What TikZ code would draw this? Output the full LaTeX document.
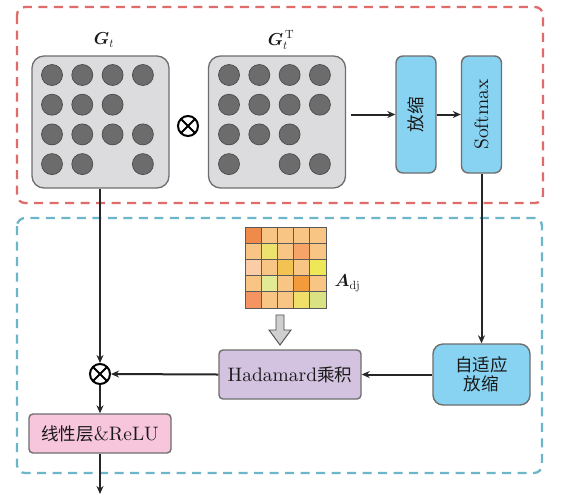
\documentclass[tikz,border=0pt]{standalone}
\usepackage{fontspec}
\usepackage{bm}
\setmainfont{lmroman10-regular}[Extension=.otf, BoldFont=lmroman10-bold, ItalicFont=lmroman10-italic]
\newfontfamily\cjk[Scale=0.9]{Noto Sans CJK SC}
\usetikzlibrary{arrows.meta,calc}
\definecolor{reddash}{HTML}{E06B6B}
\definecolor{bluedash}{HTML}{6DB6CA}
\definecolor{boxline}{HTML}{6E6E6E}
\definecolor{matgray}{HTML}{DCDCDE}
\definecolor{dotfill}{HTML}{6C6C6C}
\definecolor{dotline}{HTML}{4A4A4A}
\definecolor{skyb}{HTML}{88D3F2}
\definecolor{lav}{HTML}{D4C3E0}
\definecolor{pinkb}{HTML}{F8C6DC}
\definecolor{arrgray}{HTML}{CFCFCF}
\definecolor{gridc}{HTML}{5A5A5A}
\definecolor{OD}{HTML}{F08A4B}
\definecolor{LO}{HTML}{F9C584}
\definecolor{YE}{HTML}{EEE26E}
\definecolor{MO}{HTML}{F6A468}
\definecolor{PE}{HTML}{FBCDA6}
\definecolor{GO}{HTML}{F2C253}
\definecolor{BY}{HTML}{EEE858}
\definecolor{YG}{HTML}{E2EA96}
\definecolor{OR}{HTML}{F39A3C}
\definecolor{OT}{HTML}{F39462}
\definecolor{YT}{HTML}{F0E06A}
\definecolor{GT}{HTML}{D9E384}
\tikzset{
  conn/.style={line width=2pt, draw=black!85, -{Stealth[length=8pt,width=7pt]}},
  matbox/.style={draw=boxline, fill=matgray, rounded corners=12pt, line width=1.3pt,
    minimum width=137pt, minimum height=132pt, inner sep=0pt},
  blk/.style={draw=boxline, rounded corners=7pt, line width=1.4pt, inner sep=0pt, text=black!90},
  dotc/.style={draw=dotline, fill=dotfill, line width=0.7pt},
  otimes/.style={circle, draw=black, line width=2pt, minimum size=20pt, inner sep=0pt,
    path picture={\draw[line width=2pt] (path picture bounding box.north west) -- (path picture bounding box.south east)
      (path picture bounding box.north east) -- (path picture bounding box.south west);}},
  lbl/.style={font=\fontsize{19.5}{22}\selectfont, text=black!90},
  mlbl/.style={font=\fontsize{17}{20}\selectfont, text=black!90},
  dashbox/.style={line width=2.3pt, rounded corners=8pt, dash pattern=on 9pt off 6.5pt},
}
\begin{document}
\begin{tikzpicture}[x=1pt,y=-1pt]
\useasboundingbox (0,0) rectangle (567,499);
\fill[white] (0,0) rectangle (567,499);

% dashed regions
\draw[dashbox, draw=reddash] (17,7) rectangle (543,203);
\draw[dashbox, draw=bluedash] (17,218) rectangle (542,473);

% G_t and G_t^T
\node[matbox] (Gt) at (100.5,122) {};
\node[matbox] (GtT) at (277,122) {};
\node[mlbl] (gtl) at (104,40) {$\bm{G}_t$};
\node[mlbl] (gttl) at (281,40) {$\bm{G}_{t}^{\,\mathrm{T}}$};
\foreach \r/\cols in {0/{0,1,2,3},1/{0,1,2},2/{0,1,2,3},3/{0,1,3}}
  \foreach \c in \cols
    \draw[dotc] (52+30.3*\c, 75+29.7*\r) circle (10.5pt);
\foreach \r/\cols in {0/{0,1,2,3},1/{0,1,2,3},2/{0,1,2},3/{0,2,3}}
  \foreach \c in \cols
    \draw[dotc] (229+30.3*\c, 75+29.7*\r) circle (10.5pt);
\node[otimes] (ot1) at (188,126) {};

% scaling and softmax
\node[blk, fill=skyb, minimum width=40pt, minimum height=117pt,
  label={[lbl, rotate=90]center:{\cjk 放缩}}] (fs) at (416,114.5) {};
\node[blk, fill=skyb, minimum width=40pt, minimum height=117pt,
  label={[lbl, rotate=90]center:Softmax}] (sm) at (481.5,114.5) {};

% adjacency matrix
\foreach \row [count=\r from 0] in {{OD,LO,LO,LO,LO},{LO,YE,LO,MO,LO},{PE,LO,GO,LO,BY},{LO,YG,LO,OR,LO},{OT,LO,LO,YT,GT}}
  \foreach \col [count=\k from 0] in \row
    \filldraw[fill=\col, draw=gridc, line width=0.7pt] (245+16.2*\k, 227+16.2*\r) rectangle ++(16.2,16.2);
\node[draw=gridc, line width=0.9pt, minimum size=81pt, inner sep=0pt] (adj) at (285.5,267.5) {};
\node[mlbl, anchor=west] (adjl) at (331,283) {$\bm{A}_{\mathrm{dj}}$};
\draw[fill=arrgray, draw=black!70, line width=0.9pt]
  (276,315) -- (284,315) -- (284,330) -- (291,330) -- (280,345) -- (269,330) -- (276,330) -- cycle;

% lower row
\node[blk, fill=skyb, rounded corners=10pt, minimum width=97pt, minimum height=61pt,
  align=center, lbl] (ada) at (481.5,374.5) {\cjk 自适应\\[-3pt]\cjk 放缩};
\node[blk, fill=lav, rounded corners=4pt, minimum width=142pt, minimum height=49pt, lbl]
  (had) at (290,374.5) {Hadamard{\cjk 乘积}};
\node[otimes] (ot2) at (100,374) {};
\node[blk, fill=pinkb, rounded corners=4pt, minimum width=142pt, minimum height=39pt, lbl]
  (lin) at (100,433.5) {{\cjk 线性层}\&ReLU};
\coordinate (out) at (100,494);

% connectors
\draw[conn] ($(GtT.east |- fs.west)+(5,0)$) -- (fs.west);
\draw[conn] (fs.east) -- (sm.west);
\draw[conn] (sm.south) -- (ada.north);
\draw[conn] (ada.west) -- (had.east);
\draw[conn] (had.west) -- (ot2.east);
\draw[conn] (ot2.north |- Gt.south) -- (ot2.north);
\draw[conn] (ot2.south) -- (lin.north);
\draw[conn] (lin.south) -- (out);
\end{tikzpicture}
\end{document}
